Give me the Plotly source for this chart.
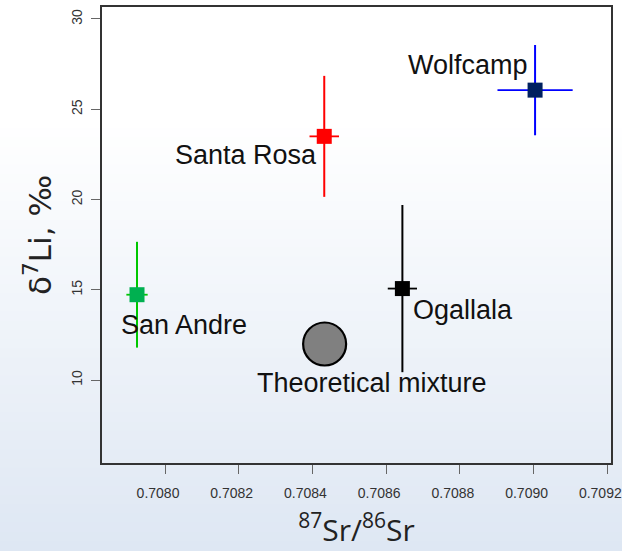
import plotly.graph_objects as go

# ---- data ----
sample_names = ["San Andre", "Santa Rosa", "Ogallala", "Wolfcamp"]
sr_ratio = [0.707924, 0.708432, 0.708644, 0.709004]
sr_err = [0.0000289, 0.0000400, 0.0000397, 0.000102]
d7li = [14.73, 23.50, 15.07, 26.06]
d7li_err = [2.93, 3.35, 4.63, 2.50]
marker_colors = ["#00B050", "#FF0000", "#000000", "#002060"]
bar_colors = ["#00C800", "#FF0000", "#000000", "#0000FF"]

mix_name = "Theoretical mixture"
mix_sr = [0.708433]
mix_li = [12.0]

x_ticks = [0.7080, 0.7082, 0.7084, 0.7086, 0.7088, 0.7090, 0.7092]
x_ticklabels = ["0.7080", "0.7082", "0.7084", "0.7086", "0.7088", "0.7090", "0.7092"]
y_ticks = [10, 15, 20, 25, 30]

# label offsets in pixels (layout only)
label_shift = {
    "San Andre": (47, -30),
    "Santa Rosa": (-78, -19),
    "Ogallala": (61, -21),
    "Wolfcamp": (-67, 25),
    "Theoretical mixture": (47, -39),
}

W, H = 622, 551
ML, MR, MT, MB = 101.6, 11, 7, 87.7

fig = go.Figure()

for name, x, ex, y, ey, mc, bc in zip(sample_names, sr_ratio, sr_err, d7li, d7li_err,
                                      marker_colors, bar_colors):
    fig.add_trace(go.Scatter(
        x=[x], y=[y], mode="markers", name=name,
        marker=dict(symbol="square", size=15, color=mc, line=dict(width=0)),
        error_x=dict(type="data", array=[ex], color=bc, thickness=1.8, width=0),
        error_y=dict(type="data", array=[ey], color=bc, thickness=2, width=0),
        showlegend=False,
    ))

fig.add_trace(go.Scatter(
    x=mix_sr, y=mix_li, mode="markers", name=mix_name,
    marker=dict(symbol="circle", size=43, color="#808080", line=dict(color="#000000", width=2.2)),
    showlegend=False,
))

annotations = []
for name, x, y in zip(sample_names + [mix_name], sr_ratio + mix_sr, d7li + mix_li):
    dx, dy = label_shift[name]
    annotations.append(dict(
        x=x, y=y, xref="x", yref="y", text=name, showarrow=False,
        xanchor="center", yanchor="middle", xshift=dx, yshift=dy,
        font=dict(family="Liberation Sans, Arial", size=27, color="#111111"),
    ))

# background gradient (white -> light blue), drawn as thin strips
plot_h = H - MT - MB
shapes = []
n = 60
top_c = (255, 255, 255)
bot_c = (222, 231, 243)
start = 120  # pixel row where gradient begins
for i in range(n):
    p0 = i * H / n
    p1 = (i + 1) * H / n
    mid = (p0 + p1) / 2
    t = max(0.0, (mid - start) / (H - start))
    c = tuple(round(top_c[k] + (bot_c[k] - top_c[k]) * t) for k in range(3))
    shapes.append(dict(
        type="rect", xref="paper", yref="paper", layer="below",
        x0=-1, x1=2,
        y0=(H - MB - p1) / plot_h - 0.001, y1=(H - MB - p0) / plot_h + 0.001,
        fillcolor="rgb(%d,%d,%d)" % c, line=dict(width=0),
    ))

tick_font = dict(family="Liberation Sans, Arial", size=14, color="#333333")

fig.update_layout(
    width=W, height=H,
    margin=dict(l=ML, r=MR, t=MT, b=MB, pad=0, autoexpand=False),
    paper_bgcolor="white",
    plot_bgcolor="rgba(0,0,0,0)",
    shapes=shapes,
    annotations=annotations,
    xaxis=dict(
        range=[0.707829, 0.70921], tickvals=x_ticks, ticktext=x_ticklabels,
        showgrid=False, zeroline=False, automargin=False, ticklabeloverflow="allow",
        showline=True, linecolor="#333333", linewidth=1.5, mirror=True,
        ticks="outside", ticklen=9, tickwidth=1, tickcolor="#666666",
        tickfont=tick_font, ticklabelstandoff=7, ticklabelshift=-7,
        title=dict(text="<sup>87</sup>Sr/<sup>86</sup>Sr",
                   font=dict(family="Open Sans", size=30, color="#222222"), standoff=20),
    ),
    yaxis=dict(
        range=[5.41, 30.664], tickvals=y_ticks,
        showgrid=False, zeroline=False, automargin=False, ticklabeloverflow="allow",
        showline=True, linecolor="#333333", linewidth=1.5, mirror=True,
        ticks="outside", ticklen=9, tickwidth=1, tickcolor="#666666",
        tickfont=tick_font, tickangle=-90, ticklabelstandoff=4,
        title=dict(text="δ<sup>7</sup>Li, ‰",
                   font=dict(family="DejaVu Sans", size=31, color="#222222"), standoff=8),
    ),
)

fig.write_html(
    "out.html",
    config={"displayModeBar": False},
    post_script="document.body.style.margin='0px';document.body.style.overflow='hidden';",
)
